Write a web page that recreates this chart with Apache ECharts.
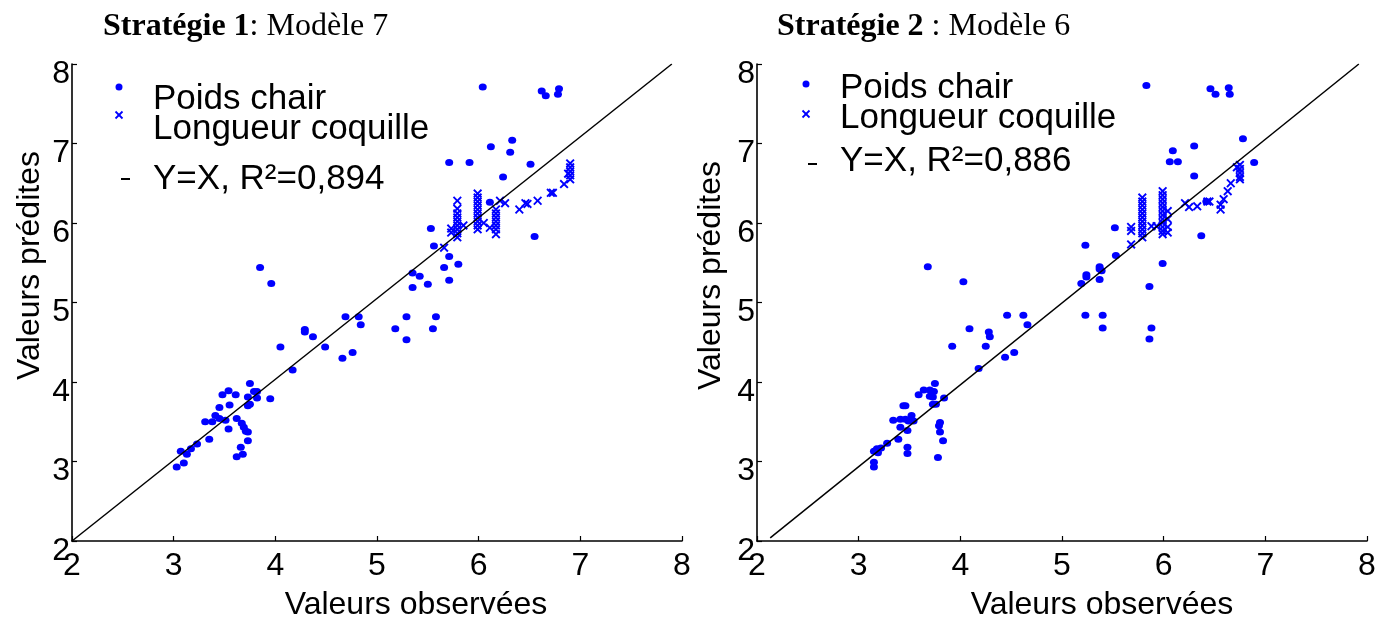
<!DOCTYPE html>
<html>
<head>
<meta charset="utf-8">
<script src="https://cdn.jsdelivr.net/npm/echarts@6/dist/echarts.min.js"></script>
<style>html,body{margin:0;padding:0;background:#fff}#c{width:1394px;height:626px}</style>
</head>
<body>
<div id="c"></div>
<script>
// ---- data ----
const axisTicks = [2, 3, 4, 5, 6, 7, 8];

const s1Chair = [
  [6.04,7.71],[6.62,7.66],[6.66,7.60],[6.79,7.69],[6.78,7.62],
  [6.33,7.04],[6.12,6.96],[6.31,6.89],[5.71,6.76],[5.91,6.76],[6.51,6.74],[6.24,6.58],[6.11,6.26],
  [5.53,5.93],[6.55,5.83],[5.56,5.71],[5.71,5.58],[5.80,5.48],[5.66,5.44],[5.35,5.37],[5.42,5.33],
  [5.50,5.23],[5.35,5.19],[5.71,5.28],[5.58,4.82],[5.55,4.67],
  [3.85,5.44],[3.96,5.24],[4.69,4.82],[4.82,4.82],[4.84,4.72],[4.29,4.66],[4.29,4.63],[4.37,4.57],
  [4.05,4.44],[4.49,4.44],[4.66,4.30],[4.76,4.37],[4.17,4.15],[5.18,4.67],[5.29,4.82],[5.29,4.53],
  [3.75,3.98],[3.79,3.88],[3.82,3.88],[3.54,3.89],[3.48,3.84],[3.61,3.84],[3.73,3.81],[3.82,3.80],
  [3.95,3.79],[3.75,3.72],[3.73,3.70],[3.55,3.71],[3.45,3.68],[3.41,3.58],[3.45,3.54],[3.38,3.50],
  [3.31,3.50],[3.51,3.52],[3.62,3.54],[3.67,3.48],[3.54,3.41],[3.69,3.43],[3.71,3.38],[3.73,3.37],
  [3.35,3.28],[3.73,3.26],[3.23,3.22],[3.66,3.18],[3.17,3.16],[3.07,3.13],[3.13,3.09],[3.62,3.06],
  [3.68,3.09],[3.10,2.98],[3.03,2.93]
];
const s1Shell = [
  [5.66,5.69],[5.73,5.88],[5.73,5.93],
  [5.79,6.28],[5.79,6.18],[5.79,6.12],[5.79,6.07],[5.79,6.02],[5.79,5.97],[5.79,5.92],[5.79,5.87],[5.79,5.82],
  [5.85,5.97],
  [5.99,6.37],[5.99,6.32],[5.99,6.27],[5.99,6.22],[5.99,6.17],[5.99,6.12],[5.99,6.07],[5.99,6.02],[5.99,5.97],[5.99,5.92],
  [6.05,6.00],[6.11,5.94],
  [6.17,6.17],[6.17,6.12],[6.17,6.07],[6.17,6.02],[6.17,5.97],[6.17,5.92],[6.17,5.86],
  [6.21,6.28],[6.26,6.25],[6.40,6.17],[6.46,6.25],[6.48,6.24],[6.58,6.28],[6.71,6.38],[6.73,6.38],[6.84,6.49],
  [6.90,6.75],[6.90,6.70],[6.90,6.65],[6.90,6.60],[6.90,6.55],[6.88,6.62]
];
const s1Line = [[2, 2], [7.9, 8]];

const s2Chair = [
  [5.83,7.73],[6.46,7.69],[6.51,7.62],[6.64,7.70],[6.65,7.62],[6.78,7.06],[6.09,6.91],[6.30,6.97],
  [6.06,6.77],[6.14,6.77],[6.89,6.76],[6.30,6.59],[6.42,6.27],[5.52,5.94],[6.37,5.84],[5.23,5.72],
  [5.53,5.59],[5.24,5.35],[5.24,5.32],[5.37,5.45],[5.37,5.42],[5.39,5.40],[5.19,5.24],[5.37,5.29],
  [5.99,5.49],[5.86,5.20],[5.23,4.84],[5.40,4.84],[5.40,4.68],[5.88,4.68],[5.86,4.54],
  [3.68,5.45],[4.03,5.26],[4.46,4.84],[4.62,4.84],[4.66,4.72],[4.09,4.67],[4.28,4.63],[4.29,4.57],
  [3.92,4.45],[4.25,4.45],[4.44,4.31],[4.53,4.37],[4.18,4.17],
  [3.75,3.98],[3.64,3.90],[3.59,3.84],[3.70,3.90],[3.74,3.88],[3.70,3.82],[3.73,3.81],[3.84,3.80],
  [3.73,3.72],[3.76,3.72],[3.44,3.70],[3.46,3.70],[3.52,3.58],[3.34,3.52],[3.41,3.53],[3.46,3.53],
  [3.49,3.51],[3.54,3.51],[3.41,3.43],[3.48,3.39],[3.80,3.49],[3.79,3.45],[3.80,3.37],[3.83,3.26],
  [3.39,3.28],[3.28,3.23],[3.48,3.18],[3.48,3.10],[3.78,3.05],[3.22,3.17],[3.18,3.16],[3.15,3.13],
  [3.19,3.11],[3.15,2.99],[3.15,2.93]
];
const s2Shell = [
  [5.68,5.73],[5.68,5.95],[5.68,5.90],
  [5.79,6.32],[5.79,6.27],[5.79,6.22],[5.79,6.17],[5.79,6.12],[5.79,6.07],[5.79,6.02],[5.79,5.97],[5.79,5.92],[5.79,5.87],[5.79,5.82],
  [5.88,5.96],[5.93,5.96],
  [5.99,6.40],[5.99,6.35],[5.99,6.30],[5.99,6.25],[5.99,6.20],[5.99,6.15],[5.99,6.10],[5.99,6.05],[5.99,6.00],[5.99,5.95],[5.99,5.90],[5.99,5.86],
  [6.04,6.15],[6.04,6.05],[6.04,5.95],[6.04,5.88],
  [6.21,6.25],[6.25,6.20],[6.33,6.21],[6.43,6.27],[6.45,6.27],[6.56,6.23],[6.56,6.17],[6.59,6.30],[6.63,6.40],[6.66,6.50],
  [6.72,6.70],[6.75,6.73],[6.75,6.68],[6.75,6.63],[6.75,6.58],[6.75,6.55]
];
const s2Line = [[2.13, 2.04], [7.92, 8]];

const titles = [['Stratégie 1', ': Modèle 7'], ['Stratégie 2', ' : Modèle 6']];
const legendNames = ['Poids chair', 'Longueur coquille'];
const r2Labels = ['Y=X, R²=0,894', 'Y=X, R²=0,886'];
const xName = 'Valeurs observées';
const yName = 'Valeurs prédites';

// ---- chart ----
const SANS = '"Liberation Sans", Arial, sans-serif';
const SERIF = '"Liberation Serif", "Times New Roman", serif';
const BLUE = '#0000ff';
const crossPath = 'path://M0,1.5L1.5,0L5,3.5L8.5,0L10,1.5L6.5,5L10,8.5L8.5,10L5,6.5L1.5,10L0,8.5L3.5,5Z';

function xAxis(i, nameShift) {
  return {
    gridIndex: i, type: 'value', min: axisTicks[0], max: axisTicks[axisTicks.length - 1], interval: 1,
    axisLine: { show: true, onZero: false, lineStyle: { color: '#000', width: 1.6 } },
    axisTick: { show: true, inside: true, length: 5, lineStyle: { color: '#000', width: 1.2 } },
    splitLine: { show: false },
    axisLabel: { fontFamily: SANS, fontSize: 32, color: '#000', margin: 9 },
    name: xName, nameLocation: 'middle', nameGap: 48,
    nameTextStyle: { fontFamily: SANS, fontSize: 32, color: '#000', padding: [0, 0, 0, nameShift] }
  };
}
function yAxis(i, nameShift, gap) {
  return {
    gridIndex: i, type: 'value', min: axisTicks[0], max: axisTicks[axisTicks.length - 1], interval: 1,
    axisLine: { show: true, onZero: false, lineStyle: { color: '#000', width: 1.6 } },
    axisTick: { show: true, inside: true, length: 5, lineStyle: { color: '#000', width: 1.2 } },
    splitLine: { show: false },
    axisLabel: { fontFamily: SANS, fontSize: 32, color: '#000', margin: 2, verticalAlign: 'top', lineHeight: 20 },
    name: yName, nameLocation: 'middle', nameGap: gap,
    nameTextStyle: { fontFamily: SANS, fontSize: 32, color: '#000', padding: [0, 0, 0, nameShift] }
  };
}
function scatterSeries(i, data, isCross) {
  return {
    type: 'scatter', xAxisIndex: i, yAxisIndex: i, data: data, silent: true,
    symbol: isCross ? crossPath : 'circle',
    symbolSize: isCross ? [9, 9] : [8, 7],
    itemStyle: { color: BLUE, opacity: 1 }
  };
}
function lineSeries(i, data) {
  return {
    type: 'line', xAxisIndex: i, yAxisIndex: i, data: data, silent: true, symbol: 'none',
    lineStyle: { color: '#000', width: 1.5 }, z: 5
  };
}
function legendGroup(x0, yDot, yCross, yT1, yT2, yT3, yDash, r2) {
  return [
    { type: 'circle', shape: { cx: x0, cy: yDot, r: 3.5 }, style: { fill: BLUE } },
    { type: 'line', shape: { x1: x0 - 3.5, y1: yCross - 3.5, x2: x0 + 3.5, y2: yCross + 3.5 }, style: { stroke: BLUE, lineWidth: 1.8 } },
    { type: 'line', shape: { x1: x0 - 3.5, y1: yCross + 3.5, x2: x0 + 3.5, y2: yCross - 3.5 }, style: { stroke: BLUE, lineWidth: 1.8 } },
    { type: 'line', shape: { x1: x0 + 2, y1: yDash, x2: x0 + 11, y2: yDash }, style: { stroke: '#000', lineWidth: 2 } },
    { type: 'text', style: { x: x0 + 34, y: yT1, text: legendNames[0], fontFamily: SANS, fontSize: 35, fill: '#000', verticalAlign: 'middle' } },
    { type: 'text', style: { x: x0 + 34, y: yT2, text: legendNames[1], fontFamily: SANS, fontSize: 35, fill: '#000', verticalAlign: 'middle' } },
    { type: 'text', style: { x: x0 + 34, y: yT3, text: r2, fontFamily: SANS, fontSize: 35, fill: '#000', verticalAlign: 'middle' } }
  ];
}

const chart = echarts.init(document.getElementById('c'), null, { renderer: 'canvas' });
chart.setOption({
  animation: false,
  backgroundColor: '#fff',
  title: [
    { left: 103, top: 11, padding: 0, text: '{b|' + titles[0][0] + '}' + titles[0][1],
      textStyle: { fontFamily: SERIF, fontSize: 32, fontWeight: 'normal', color: '#000',
        rich: { b: { fontFamily: SERIF, fontSize: 32, fontWeight: 'bold', color: '#000' } } } },
    { left: 777, top: 11, padding: 0, text: '{b|' + titles[1][0] + '}' + titles[1][1],
      textStyle: { fontFamily: SERIF, fontSize: 32, fontWeight: 'normal', color: '#000',
        rich: { b: { fontFamily: SERIF, fontSize: 32, fontWeight: 'bold', color: '#000' } } } }
  ],
  grid: [
    { left: 72, top: 64, width: 610, height: 479 },
    { left: 757, top: 64, width: 610, height: 478 }
  ],
  xAxis: [xAxis(0, 78), xAxis(1, 80)],
  yAxis: [yAxis(0, 74, 26), yAxis(1, 54, 30)],
  series: [
    lineSeries(0, s1Line), scatterSeries(0, s1Chair, false), scatterSeries(0, s1Shell, true),
    lineSeries(1, s2Line), scatterSeries(1, s2Chair, false), scatterSeries(1, s2Shell, true)
  ],
  graphic: [].concat(
    legendGroup(119, 87, 115, 99, 129, 179, 179, r2Labels[0]),
    legendGroup(806, 84, 114, 88, 118, 161, 164, r2Labels[1])
  )
});
</script>
</body>
</html>
